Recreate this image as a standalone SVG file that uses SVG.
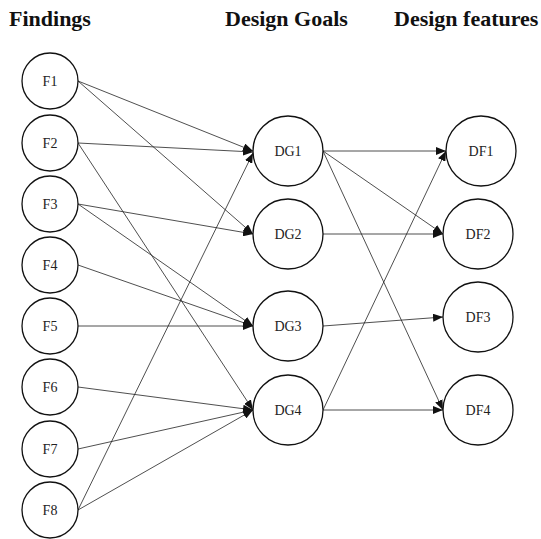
<svg xmlns="http://www.w3.org/2000/svg" width="541" height="539" viewBox="0 0 541 539">
<style>
.title{font-family:"Liberation Serif","Times New Roman",serif;font-weight:bold;font-size:22px;fill:#111}
.lbl{font-family:"Liberation Serif","Times New Roman",serif;font-size:14px;fill:#222;text-anchor:middle;dominant-baseline:central}
.node{fill:#fff;stroke:#111;stroke-width:1.3}
.edge{fill:none;stroke:#222;stroke-width:0.8;marker-end:url(#arr)}
</style>
<defs>
<marker id="arr" markerUnits="userSpaceOnUse" markerWidth="11" markerHeight="8" refX="10" refY="4" orient="auto">
<path d="M0,0 L10,4 L0,8 z" fill="#111"/>
</marker>
</defs>
<rect width="541" height="539" fill="#fff"/>
<text class="title" x="9" y="26">Findings</text>
<text class="title" x="225" y="26">Design Goals</text>
<text class="title" x="394" y="26">Design features</text>
<g id="connectors">
<line class="edge" x1="78" y1="81" x2="253" y2="151"/>
<line class="edge" x1="78" y1="81" x2="253" y2="234"/>
<line class="edge" x1="78" y1="143" x2="253" y2="152"/>
<line class="edge" x1="78" y1="143" x2="253" y2="410"/>
<line class="edge" x1="78" y1="204" x2="253" y2="234"/>
<line class="edge" x1="78" y1="204" x2="253" y2="326"/>
<line class="edge" x1="78" y1="265" x2="253" y2="326"/>
<line class="edge" x1="78" y1="326" x2="253" y2="326"/>
<line class="edge" x1="78" y1="387" x2="253" y2="410"/>
<line class="edge" x1="78" y1="449" x2="253" y2="410"/>
<line class="edge" x1="78" y1="510" x2="253" y2="153"/>
<line class="edge" x1="78" y1="510" x2="253" y2="410"/>
<line class="edge" x1="323" y1="151" x2="446" y2="151"/>
<line class="edge" x1="323" y1="151" x2="443" y2="234"/>
<line class="edge" x1="323" y1="151" x2="443" y2="410"/>
<line class="edge" x1="323" y1="234" x2="443" y2="234"/>
<line class="edge" x1="323" y1="326" x2="443" y2="317"/>
<line class="edge" x1="323" y1="410" x2="446" y2="151"/>
<line class="edge" x1="323" y1="410" x2="443" y2="410"/>
</g>
<g id="F1"><circle class="node" cx="50" cy="81" r="28"/><text class="lbl" x="50" y="81">F1</text></g>
<g id="F2"><circle class="node" cx="50" cy="143" r="28"/><text class="lbl" x="50" y="143">F2</text></g>
<g id="F3"><circle class="node" cx="50" cy="204" r="28"/><text class="lbl" x="50" y="204">F3</text></g>
<g id="F4"><circle class="node" cx="50" cy="265" r="28"/><text class="lbl" x="50" y="265">F4</text></g>
<g id="F5"><circle class="node" cx="50" cy="326" r="28"/><text class="lbl" x="50" y="326">F5</text></g>
<g id="F6"><circle class="node" cx="50" cy="387" r="28"/><text class="lbl" x="50" y="387">F6</text></g>
<g id="F7"><circle class="node" cx="50" cy="449" r="28"/><text class="lbl" x="50" y="449">F7</text></g>
<g id="F8"><circle class="node" cx="50" cy="510" r="28"/><text class="lbl" x="50" y="510">F8</text></g>
<g id="DG1"><circle class="node" cx="288" cy="151" r="35"/><text class="lbl" x="288" y="151">DG1</text></g>
<g id="DG2"><circle class="node" cx="288" cy="234" r="35"/><text class="lbl" x="288" y="234">DG2</text></g>
<g id="DG3"><circle class="node" cx="288" cy="326" r="35"/><text class="lbl" x="288" y="326">DG3</text></g>
<g id="DG4"><circle class="node" cx="288" cy="410" r="35"/><text class="lbl" x="288" y="410">DG4</text></g>
<g id="DF1"><circle class="node" cx="481" cy="151" r="35"/><text class="lbl" x="481" y="151">DF1</text></g>
<g id="DF2"><circle class="node" cx="478" cy="234" r="35"/><text class="lbl" x="478" y="234">DF2</text></g>
<g id="DF3"><circle class="node" cx="478" cy="317" r="35"/><text class="lbl" x="478" y="317">DF3</text></g>
<g id="DF4"><circle class="node" cx="478" cy="410" r="35"/><text class="lbl" x="478" y="410">DF4</text></g>
</svg>
